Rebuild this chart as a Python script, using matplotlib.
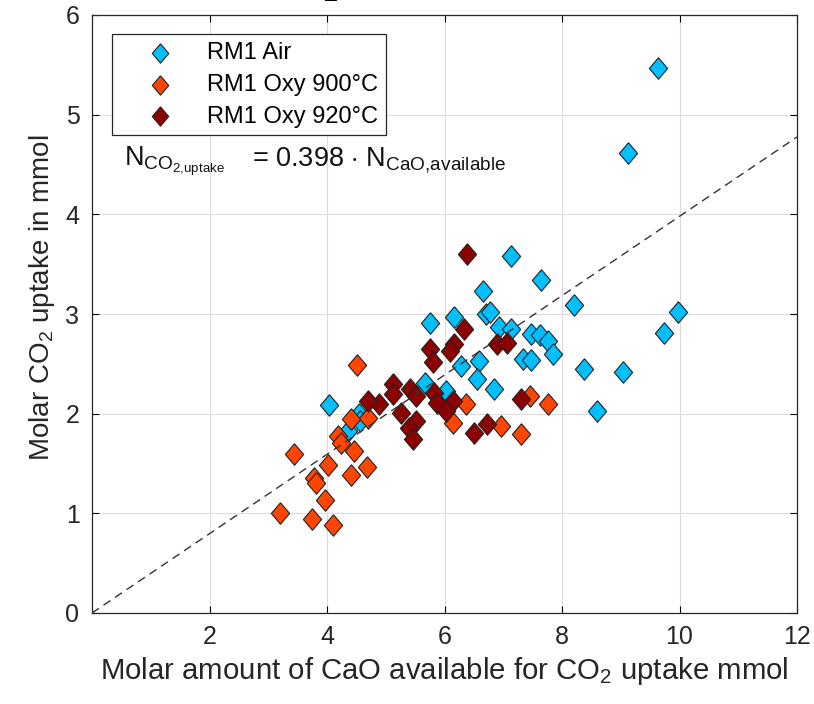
import matplotlib
matplotlib.use("Agg")
import matplotlib.pyplot as plt
import numpy as np

air_x = [9.64, 9.12, 7.13, 7.65, 8.21, 9.98, 9.73, 8.38, 9.03, 8.60, 4.03, 6.65, 6.16, 6.70,
         6.77, 6.92, 7.14, 7.47, 7.62, 7.76, 7.84, 6.28, 6.58, 7.33, 7.48, 6.55, 6.84, 5.75,
         5.66, 6.02, 4.54, 4.57, 4.35]
air_y = [5.47, 4.62, 3.58, 3.34, 3.09, 3.02, 2.81, 2.45, 2.42, 2.03, 2.09, 3.23, 2.97, 3.00,
         3.02, 2.87, 2.85, 2.80, 2.79, 2.73, 2.60, 2.48, 2.53, 2.55, 2.54, 2.35, 2.25, 2.91,
         2.31, 2.23, 2.00, 1.93, 1.83]

oxy900_x = [4.51, 6.36, 7.45, 7.77, 6.14, 6.96, 7.30, 4.69, 4.40, 4.18, 4.23, 4.46, 3.44,
            4.01, 4.68, 4.40, 3.78, 3.81, 3.96, 3.20, 3.74, 4.10]
oxy900_y = [2.49, 2.10, 2.18, 2.10, 1.91, 1.88, 1.80, 1.96, 1.95, 1.78, 1.71, 1.63, 1.60,
            1.48, 1.46, 1.38, 1.35, 1.30, 1.13, 1.00, 0.94, 0.88]

oxy920_x = [6.39, 6.33, 6.17, 6.09, 6.89, 7.07, 7.30, 6.14, 5.75, 5.80, 5.12, 5.12, 5.42,
            5.51, 5.82, 5.88, 6.02, 6.50, 6.73, 5.51, 5.39, 5.46, 5.26, 4.88, 4.69]
oxy920_y = [3.60, 2.85, 2.70, 2.63, 2.70, 2.71, 2.15, 2.13, 2.65, 2.52, 2.30, 2.20, 2.25,
            2.18, 2.21, 2.11, 2.03, 1.81, 1.90, 1.93, 1.86, 1.75, 2.01, 2.10, 2.13]

slope = 0.398
line_x = [0, 12]

series = [("RM1 Air", air_x, air_y, "#00BFFF"),
          ("RM1 Oxy 900°C", oxy900_x, oxy900_y, "#FF4500"),
          ("RM1 Oxy 920°C", oxy920_x, oxy920_y, "#8B0000")]

plt.rcParams['font.family'] = ['Liberation Sans', 'DejaVu Sans']
plt.rcParams['mathtext.fontset'] = 'custom'
plt.rcParams['mathtext.rm'] = 'Liberation Sans'

fig = plt.figure(figsize=(8.14, 7.04), dpi=100)
ax = fig.add_axes([92/814, 1-613/704, 705/814, 598/704])

diamond = [(0, 1), (0.85, 0), (0, -1), (-0.85, 0), (0, 1)]

ax.plot(line_x, [slope*v for v in line_x], ls=(0, (6, 4)), color="#333333", lw=1.0, zorder=3)

for lab, xs, ys, c in series:
    ax.scatter(xs, ys, marker=diamond, s=240, c=c, edgecolors="#222222", linewidths=0.8,
               label=lab, zorder=2)

ax.set_xlim(0, 12)
ax.set_ylim(0, 6)
ax.set_xticks([2, 4, 6, 8, 10, 12])
ax.set_yticks([0, 1, 2, 3, 4, 5, 6])
ax.grid(True, color="#dcdcdc", lw=0.8)
ax.set_axisbelow(True)
ax.tick_params(direction='in', top=True, right=True, length=5, width=0.8,
               labelsize=18, pad=9, labelcolor="#262626")
for sp in ax.spines.values():
    sp.set_color("#262626")
    sp.set_linewidth(0.9)

ax.set_xlabel("Molar amount of CaO available for CO$_2$ uptake mmol", fontsize=21.2,
              color="#262626", labelpad=4)
ax.set_ylabel("Molar CO$_2$ uptake in mmol", fontsize=20,
              color="#262626", labelpad=6)
ax.yaxis.label.set_y(0.527)

leg = ax.legend(loc='upper left', bbox_to_anchor=(20/705, 1-19/598), fontsize=17,
                frameon=True, fancybox=False, edgecolor="#262626", framealpha=1,
                handletextpad=0.3, borderpad=0.33, labelspacing=0.42, markerscale=0.9,
                borderaxespad=0, handlelength=3.4)
leg.get_frame().set_linewidth(0.9)

ax.text(0.045, 0.748, r"N$_{\mathrm{CO}_{\mathrm{2{,}uptake}}}$", transform=ax.transAxes,
        fontsize=19.5, color="#111111", va='baseline')
ax.text(0.227, 0.748, r"= 0.398 $\cdot$ N$_{\mathrm{CaO{,}available}}$", transform=ax.transAxes,
        fontsize=19.5, color="#111111", va='baseline')

fig.text(330/814, 1 - 6/704, "2", fontsize=18, fontweight='bold', ha='center', va='bottom')

fig.savefig("out.png", dpi=100)
